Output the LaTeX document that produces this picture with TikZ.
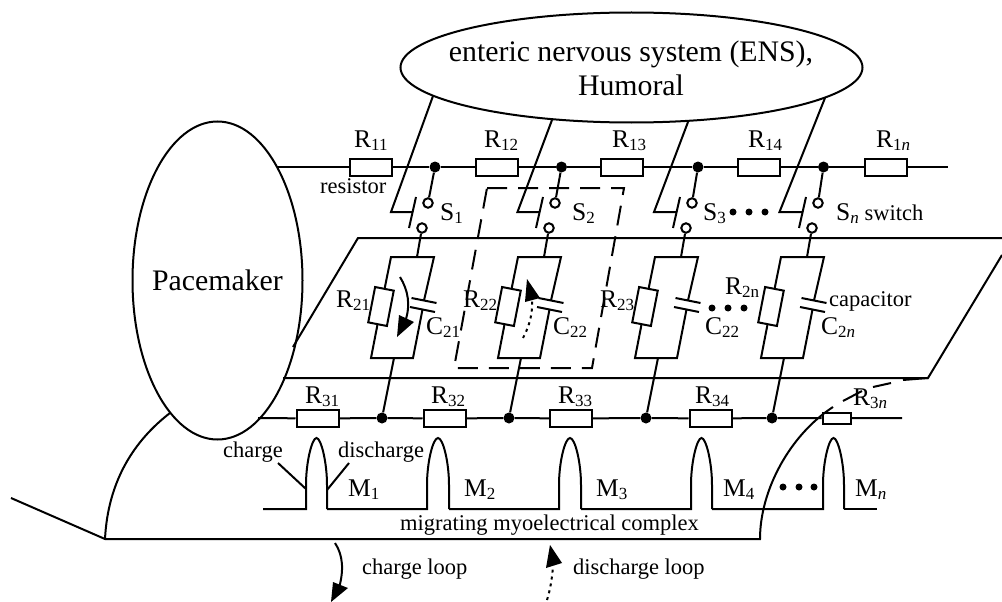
\documentclass[tikz,border=0pt]{standalone}
\usepackage{fontspec}
\setmainfont{Liberation Serif}
\usetikzlibrary{shapes.geometric}
\newcommand\sbs[1]{\raisebox{-3.8pt}{\fontsize{17}{17}\selectfont #1}}
\tikzset{
  wire/.style={line width=2pt,line join=miter},
  resbox/.style={draw,line width=2pt,rectangle,inner sep=0pt,minimum width=42pt,minimum height=17pt},
  tiltres/.style={draw,line width=2pt,rectangle,inner sep=0pt,minimum width=19pt,minimum height=36pt,rotate=-11},
  dotj/.style={circle,fill=black,inner sep=0pt,minimum size=11pt},
  smalldot/.style={circle,fill=black,inner sep=0pt,minimum size=7pt},
  opencirc/.style={circle,draw,line width=2pt,fill=white,inner sep=0pt,minimum size=9.5pt},
  bigoval/.style={draw,line width=2pt,ellipse,inner sep=0pt},
  bigtext/.style={inner sep=0pt,align=center,font=\fontsize{29.8}{34}\selectfont},
  lab/.style={anchor=base west,inner sep=0pt,font=\fontsize{22.5}{26}\selectfont},
  rlab/.style={anchor=base west,inner sep=0pt,font=\fontsize{25.5}{28}\selectfont},
  longdash/.style={line width=2pt,dash pattern=on 20pt off 11pt},
  dots/.style={line width=2pt,dash pattern=on 3pt off 4pt},
}
\begin{document}
\begin{tikzpicture}[x=1pt,y=-1pt]
\useasboundingbox (0,0) rectangle (1002,602);
% ovals
\node[bigoval,minimum width=462pt,minimum height=110pt] (ens) at (631.5,67.5) {};
\node[bigtext] (enstext) at (631,68) {enteric nervous system (ENS),\\Humoral};
\node[bigoval,minimum width=170pt,minimum height=318pt] (pace) at (217.5,280.5) {};
\node[bigtext] (pacetext) at (217.5,280) {Pacemaker};
% top rail
\coordinate (t0) at (277,167);
\coordinate (t9) at (948,167);
\node[resbox] (r11) at (370.5,167) {};
\node[resbox] (r12) at (497,167) {};
\node[resbox] (r13) at (621.5,167) {};
\node[resbox] (r14) at (758.5,167) {};
\node[resbox] (r1n) at (885.5,167) {};
% bottom rail
\coordinate (b0) at (258,418);
\coordinate (b9) at (902,418);
\node[resbox] (r31) at (317.5,418.5) {};
\node[resbox] (r32) at (444.5,418.5) {};
\node[resbox] (r33) at (571,418.5) {};
\node[resbox] (r34) at (710.5,418.5) {};
\node[draw,line width=2pt,rectangle,inner sep=0pt,minimum width=28pt,minimum height=11pt] (r3n) at (836.5,418) {};
% columns
\foreach \i/\d/\e/\f/\st in {1/0/433/96/1,2/127/552/120/2,3/264/688/122/3,4/390/825/98/4}{
  \node[dotj] (j\i) at (435+\d-\i/2+.5,167) {};
  \node[dotj] (k\i) at (382+\d,418) {};
  \node[opencirc] (sa\i) at (428+\d,203) {};
  \node[opencirc] (sb\i) at (422+\d,228) {};
  \coordinate (ca\i) at (\e,\f);
  \coordinate (cb\i) at (391+\d-.5*\i+.5,212);
  \coordinate (cc\i) at (412+\d,212);
  \coordinate (ba\i) at (416+\d,197);
  \coordinate (bb\i) at (409+\d,228);
  \coordinate (tl\i) at (391+\d,257);
  \coordinate (tr\i) at (434+\d,257);
  \coordinate (bl\i) at (371+\d,358);
  \coordinate (br\i) at (413+\d,358);
  \coordinate (tm\i) at (417+\d,257);
  \coordinate (bm\i) at (394+\d,358);
  \node[tiltres] (res\i) at (381+\d,306.5) {};
  \coordinate (pu\i) at (424+\d,300.5);
  \coordinate (pl\i) at (422.5+\d,309.5);
  \coordinate (pua\i) at (411.5+\d,298);
  \coordinate (pub\i) at (436.5+\d,303);
  \coordinate (pla\i) at (410+\d,307);
  \coordinate (plb\i) at (435+\d,312);
  \draw[wire] (j\i) -- (sa\i);
  \draw[wire] (sb\i) -- (tm\i);
  \draw[wire] (ca\i) -- (cb\i) -- (cc\i);
  \draw[wire] (ba\i) -- (bb\i);
  \draw[wire] (res\i) -- (tl\i) -- (tr\i) -- (pu\i);
  \draw[wire] (pua\i) -- (pub\i);
  \draw[wire] (pla\i) -- (plb\i);
  \draw[wire] (pl\i) -- (br\i) -- (bl\i) -- (res\i);
  \draw[wire] (bm\i) -- (k\i);
}
\draw[wire] (t0) -- (r11) -- (j1) -- (r12) -- (j2) -- (r13) -- (j3) -- (r14) -- (j4) -- (r1n) -- (t9);
\draw[wire] (b0) -- (r31) -- (k1) -- (r32) -- (k2) -- (r33) -- (k3) -- (r34) -- (k4) -- (r3n) -- (b9);
% large plane
\coordinate (pa) at (293,347);
\coordinate (pb) at (358,238);
\coordinate (pc) at (1002,238);
\coordinate (pd) at (1002,255);
\coordinate (pe) at (928,378);
\coordinate (pf) at (283,378);
\draw[wire] (pa) -- (pb) -- (pc);
\draw[wire] (pd) -- (pe) -- (pf);
% dashed box
\coordinate (da) at (487,188);
\coordinate (db) at (624,188);
\coordinate (dc) at (592,368);
\coordinate (dd) at (454,368);
\draw[longdash] (da) -- (db) -- (dc) -- (dd) -- cycle;
% lower plane
\coordinate (la) at (11,498);
\coordinate (lb) at (105,539);
\coordinate (lc) at (170,413);
\coordinate (ld) at (760,539);
\coordinate (le) at (833,407);
\draw[wire] (lc) .. controls (135,440) and (108,480) .. (lb);
\draw[wire] (la) -- (lb) -- (ld) .. controls (760,490) and (790,435) .. (le);
\draw[wire] (843,401) -- (862,391);
\draw[wire] (873,387) -- (891,383);
\draw[wire] (903,380) -- (pe);
% waveform
\foreach \p/\l/\r in {263/306/327,327/427/449,449/559/581,581/691/712,712/823/844}{
  \draw[wire] (\p,509) -- (\l,509) -- (\l,485) .. controls (\l,462) and ({\l+6},438) .. ({(\l+\r)/2},438) .. controls ({\r-6},438) and (\r,462) .. (\r,485) -- (\r,509);
}
\coordinate (w8) at (844,509);
\coordinate (w9) at (877,509);
\draw[wire] (w8) -- (w9);
\coordinate (ca) at (278,463);
\coordinate (cb) at (306,489);
\coordinate (da2) at (349,463);
\coordinate (db2) at (327,490);
\draw[wire] (ca) -- (cb);
\draw[wire] (da2) -- (db2);
% small dots
\foreach \n/\x/\y in {a/733/212,b/749/212,c/765/212,d/712/308,e/728/308,f/744/308,g/783/487,h/799/487,i/814/487}{
  \node[smalldot] (dot\n) at (\x,\y) {};
}
% loop arrows
\draw[wire] (400,277) .. controls (408,290) and (411,305) .. (405,322);
\fill (397,337) -- (399,315) -- (414,322) -- cycle;
\draw[dots] (523,338) .. controls (530,325) and (533,312) .. (532,298);
\fill (527,279) -- (525,302) -- (540,298) -- cycle;
\draw[wire] (335,543) .. controls (343,555) and (344,570) .. (339,588);
\fill (331,602) -- (333,582) -- (348,588) -- cycle;
\draw[dots] (547,600) .. controls (550,590) and (552,580) .. (553,566);
\fill (550,545) -- (546,568) -- (562,563) -- cycle;
% labels
\node[rlab] (lr11) at (354,147) {R\sbs{11}};
\node[rlab] (lr12) at (484,147) {R\sbs{12}};
\node[rlab] (lr13) at (612,147) {R\sbs{13}};
\node[rlab] (lr14) at (748,147) {R\sbs{14}};
\node[rlab] (lr1n) at (876,147) {R\sbs{1\textit{n}}};
\node[lab] (lres) at (320,193) {resistor};
\node[rlab] (ls1) at (440,220) {S\sbs{1}};
\node[rlab] (ls2) at (572,220) {S\sbs{2}};
\node[rlab] (ls3) at (703,220) {S\sbs{3}};
\node[rlab] (lsn) at (836,220) {S\sbs{\textit{n}}\fontsize{22.5}{26}\selectfont{} switch};
\node[rlab] (lr21) at (336,307) {R\sbs{21}};
\node[rlab] (lr22) at (463,307) {R\sbs{22}};
\node[rlab] (lr23) at (600,307) {R\sbs{23}};
\node[rlab] (lr2n) at (725,294) {R\sbs{2n}};
\node[rlab] (lc21) at (426,334) {C\sbs{21}};
\node[rlab] (lc22) at (553,334) {C\sbs{22}};
\node[rlab] (lc23) at (705,334) {C\sbs{22}};
\node[rlab] (lc2n) at (821,334) {C\sbs{2\textit{n}}};
\node[lab] (lcap) at (829,306) {capacitor};
\node[rlab] (lr31) at (305,403) {R\sbs{31}};
\node[rlab] (lr32) at (431,403) {R\sbs{32}};
\node[rlab] (lr33) at (558,403) {R\sbs{33}};
\node[rlab] (lr34) at (695,403) {R\sbs{34}};
\node[rlab] (lr3n) at (853,405) {R\sbs{3\textit{n}}};
\node[lab] (lch) at (223,457) {charge};
\node[lab] (ldi) at (338,457) {discharge};
\node[rlab] (lm1) at (348,496) {M\sbs{1}};
\node[rlab] (lm2) at (464,496) {M\sbs{2}};
\node[rlab] (lm3) at (596,496) {M\sbs{3}};
\node[rlab] (lm4) at (723,496) {M\sbs{4}};
\node[rlab] (lmn) at (855,496) {M\sbs{\textit{n}}};
\node[lab] (lmig) at (400,530) {migrating myoelectrical complex};
\node[lab] (lcl) at (362,574) {charge loop};
\node[lab] (ldl) at (573,574) {discharge loop};
\end{tikzpicture}
\end{document}
